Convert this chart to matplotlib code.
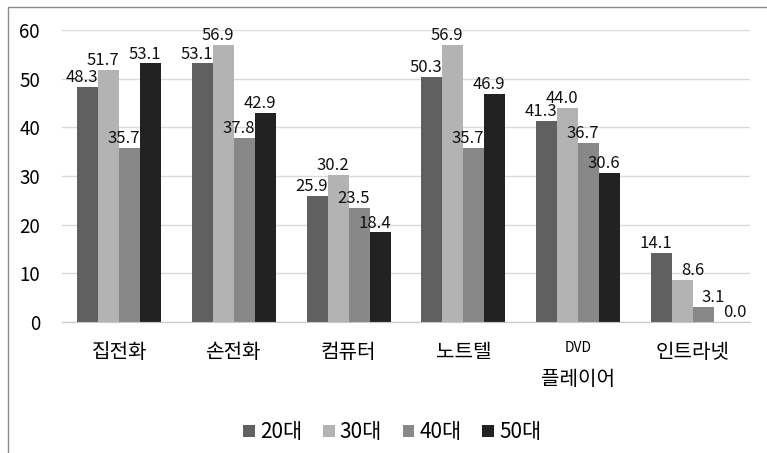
import numpy as np
import matplotlib.pyplot as plt
from matplotlib.patches import Rectangle

plt.rcParams['font.family'] = ['Noto Sans CJK KR', 'DejaVu Sans']

categories = ['집전화', '손전화', '컴퓨터', '노트텔', 'DVD\n플레이어', '인트라넷']
groups = ['20대', '30대', '40대', '50대']
vals_20 = [48.3, 53.1, 25.9, 50.3, 41.3, 14.1]
vals_30 = [51.7, 56.9, 30.2, 56.9, 44.0, 8.6]
vals_40 = [35.7, 37.8, 23.5, 35.7, 36.7, 3.1]
vals_50 = [53.1, 42.9, 18.4, 46.9, 30.6, 0.0]
colors = ['#606060', '#b3b3b3', '#888888', '#222222']

series = [vals_20, vals_30, vals_40, vals_50]

fig = plt.figure(figsize=(7.67, 4.53), dpi=100)
ax = fig.add_axes([0.081, 0.289, 0.897, 0.645])

x = np.arange(len(categories))
width = 0.183
for i, (vals, col, name) in enumerate(zip(series, colors, groups)):
    pos = x + (i - 1.5) * width
    ax.bar(pos, vals, width=width, color=col, label=name, zorder=2)
    for j, (p, v) in enumerate(zip(pos, vals)):
        # the short bars of the last group get their labels nudged right
        if j == len(categories) - 1 and i > 0:
            ax.text(p - width / 2 + 0.08, v + 0.2, '{:.1f}'.format(v),
                    ha='left', va='bottom', fontsize=12, color='#111111', zorder=3)
        else:
            ax.text(p - 0.05, v + 0.2, '{:.1f}'.format(v), ha='center',
                    va='bottom', fontsize=12, color='#111111', zorder=3)

ax.set_xlim(-0.5, len(categories) - 0.5)
ax.set_ylim(0, 60)
ax.set_yticks(range(0, 61, 10))
ax.yaxis.grid(True, color='#d9d9d9', linewidth=1, zorder=0)
for s in ['top', 'right', 'left']:
    ax.spines[s].set_visible(False)
ax.spines['bottom'].set_color('#c8c8c8')
ax.tick_params(axis='y', length=0, labelsize=13.5, pad=16)
ax.tick_params(axis='x', length=0, labelsize=14.5, pad=14)

ticklabels = list(categories)
ticklabels[4] = ''
ax.set_xticks(x)
ax.set_xticklabels(ticklabels)

# two-line label: small "DVD" over the Korean word
ax.text(x[4], -5.4, 'DVD', ha='center', va='center', fontsize=10,
        fontweight='medium', transform=ax.transData, clip_on=False)
ax.text(x[4], -11.8, '플레이어', ha='center', va='center', fontsize=14.5,
        transform=ax.transData, clip_on=False)

ax.legend(loc='center', bbox_to_anchor=(0.48, -0.377), ncol=4, frameon=False,
          fontsize=15, handlelength=0.55, handleheight=0.55, handletextpad=0.25,
          columnspacing=1.0)

# outer chart frame (top and left edges visible)
fig.add_artist(Rectangle((8 / 767, -0.2), 1.2, 1.2 - 7 / 453,
                         transform=fig.transFigure, fill=False,
                         edgecolor='#8c8c8c', linewidth=1))

fig.savefig('out.png', dpi=100)
